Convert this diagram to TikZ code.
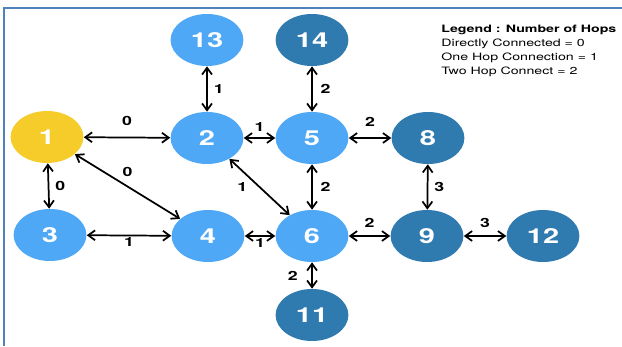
\documentclass[tikz,border=0pt]{standalone}
\usepackage{fontspec}
\setmainfont{TeX Gyre Heros}
\usetikzlibrary{positioning,arrows.meta}
\definecolor{srcyel}{RGB}{245,204,42}
\definecolor{hoplt}{RGB}{78,168,245}
\definecolor{hopdk}{RGB}{47,123,176}
\definecolor{frameblue}{RGB}{79,129,189}

\begin{document}
\begin{tikzpicture}[x=0.5357pt,y=-0.75pt,xscale=1.4,every node/.style={transform shape},
  >={Straight Barb[length=1.8mm,width=2.6mm]},
  hop/.style={circle,minimum size=39pt,inner sep=0pt,text=white,font=\fontsize{15.5}{16}\selectfont\bfseries},
  src/.style={hop,fill=srcyel},
  near/.style={hop,fill=hoplt},
  far/.style={hop,fill=hopdk},
  link/.style={<->,line width=1.3pt},
  hopcnt/.style={inner sep=1pt,font=\fontsize{9.5}{10}\selectfont\bfseries},
  keytext/.style={inner sep=0pt,align=left,font=\fontsize{7.6}{10.5}\selectfont}]
  \useasboundingbox (0,0) rectangle (622,346);
  \draw[frameblue,line width=1.5pt] (4,346) -- (4,8) -- (622,8);

  % nodes, by hop distance from 1
  \node[src]  (n1)  at (47,137)  {1};
  \node[near] (n2)  at (207,138) {2};
  \node[near] (n3)  at (50,235)  {3};
  \node[near] (n4)  at (208,236) {4};
  \node[near] (n5)  at (312,138) {5};
  \node[near] (n6)  at (312,236) {6};
  \node[far]  (n8)  at (428,138) {8};
  \node[far]  (n9)  at (427,236) {9};
  \node[far]  (n11) at (312,315) {11};
  \node[far]  (n12) at (543,236) {12};
  \node[near] (n13) at (207,40)  {13};
  \node[far]  (n14) at (312,40)  {14};

  \draw[link] (n1) -- node[hopcnt,above=7pt]{0} (n2);
  \draw[link] (n1) -- node[hopcnt,right=2pt]{0} (n3);
  \draw[link] (n1) -- node[hopcnt,above=6pt]{0} (n4);
  \draw[link] (n3) -- node[hopcnt,below=0pt]{1} (n4);
  \draw[link] (n2) -- node[hopcnt,right=2pt]{1} (n13);
  \draw[link] (n2) -- node[hopcnt,above=3pt]{1} (n5);
  \draw[link] (n2) -- node[hopcnt,left=5pt]{1} (n6);
  \draw[link] (n4) -- node[hopcnt,below=0pt]{1} (n6);
  \draw[link] (n5) -- node[hopcnt,right=3pt]{2} (n14);
  \draw[link] (n5) -- node[hopcnt,right=3pt]{2} (n6);
  \draw[link] (n5) -- node[hopcnt,above=7pt]{2} (n8);
  \draw[link] (n6) -- node[hopcnt,above=5pt]{2} (n9);
  \draw[link] (n6) -- node[hopcnt,left=6pt]{2} (n11);
  \draw[link] (n8) -- node[hopcnt,right=2pt]{3} (n9);
  \draw[link] (n9) -- node[hopcnt,above=5pt]{3} (n12);

  \node[keytext,anchor=north west] (key) at (441,25)
    {\textbf{Legend : Number of Hops}\\Directly Connected = 0\\One Hop Connection = 1\\Two Hop Connect = 2};
\end{tikzpicture}
\end{document}
